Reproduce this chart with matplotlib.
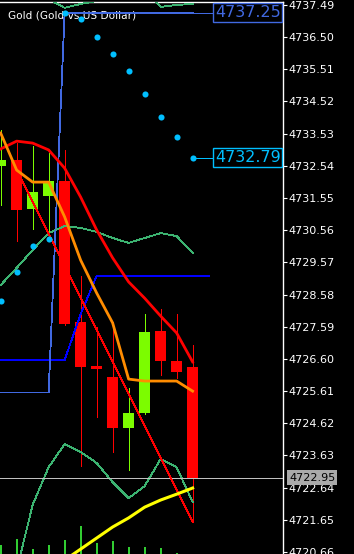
import numpy as np
import matplotlib
matplotlib.use("Agg")
import matplotlib.pyplot as plt
import matplotlib.transforms as mtrans

# ---------------- data ----------------
opens  = [4732.54, 4732.72, 4731.21, 4731.61, 4732.07, 4727.74, 4726.38, 4726.04, 4724.47, 4724.94, 4727.46, 4726.54, 4726.35]
highs  = [4733.64, 4733.24, 4733.15, 4732.94, 4733.03, 4729.15, 4727.58, 4727.74, 4725.71, 4727.98, 4728.14, 4727.98, 4727.03]
lows   = [4731.34, 4730.23, 4730.60, 4730.26, 4727.64, 4723.31, 4724.81, 4723.74, 4723.18, 4724.91, 4726.11, 4726.01, 4721.58]
closes = [4732.72, 4731.18, 4731.74, 4732.07, 4727.67, 4726.35, 4726.29, 4724.47, 4724.94, 4727.43, 4726.54, 4726.20, 4722.95]

ma_red    = [4733.06, 4733.30, 4733.24, 4733.03, 4732.47, 4731.58, 4730.57, 4729.71, 4728.97, 4728.47, 4727.92, 4727.40, 4726.51]
ma_orange = [4733.55, 4732.41, 4732.04, 4732.04, 4730.97, 4729.64, 4728.63, 4727.71, 4725.98, 4725.92, 4725.92, 4725.92, 4725.61]
ma_yellow = [4718.87, 4719.31, 4719.67, 4720.04, 4720.41, 4720.75, 4721.09, 4721.43, 4721.71, 4722.04, 4722.26, 4722.44, 4722.63]

bb_mid   = [4728.87, 4729.40, 4729.95, 4730.47, 4730.69, 4730.63, 4730.51, 4730.32, 4730.17, 4730.32, 4730.47, 4730.38, 4729.86]
bb_upper = [4739.18, 4738.69, 4737.80, 4737.67, 4737.40, 4737.52, 4737.61, 4737.83, 4738.01, 4737.95, 4737.43, 4737.49, 4737.52]
bb_lower = [4718.57, 4720.10, 4722.11, 4723.27, 4723.98, 4723.74, 4723.40, 4722.81, 4722.32, 4722.69, 4723.52, 4723.27, 4722.20]

sar = [4728.38, 4729.27, 4730.07, 4730.29, 4737.24, 4737.06, 4736.51, 4735.98, 4735.46, 4734.75, 4734.04, 4733.43, 4732.79]

level_light = [4725.57, 4725.57, 4725.57, 4725.57, 4737.25, 4737.25, 4737.25, 4737.25, 4737.25, 4737.25, 4737.25, 4737.25, 4737.25]
level_dark  = [4726.57, 4726.57, 4726.57, 4726.57, 4726.57, 4727.98, 4729.15, 4729.15, 4729.15, 4729.15, 4729.15, 4729.15, 4729.15, 4729.15]

trend_x = [1, 12]
trend_y = [4732.41, 4721.58]

volumes = [45, 75, 25, 45, 70, 140, 55, 65, 35, 35, 30, 5, 2]

price_ticks = [4737.49, 4736.50, 4735.51, 4734.52, 4733.53, 4732.54, 4731.55, 4730.56, 4729.57,
               4728.58, 4727.59, 4726.60, 4725.61, 4724.62, 4723.63, 4722.64, 4721.65, 4720.66]
current_price = 4722.95
title = "Gold (Gold vs US Dollar)"

# ---------------- figure ----------------
W, H, DPI = 354, 554, 100
fig = plt.figure(figsize=(W / DPI, H / DPI), dpi=DPI, facecolor="black")
rect = [0, 0, 283 / W, (H - 2) / H]

ax_vol = fig.add_axes(rect)
ax_vol.set_facecolor("black")
ax_vol.axis("off")

ax = fig.add_axes(rect, sharex=ax_vol)
ax.patch.set_visible(False)

n = len(opens)
x = np.arange(n)
XMIN, XMAX = -0.04, 17.65
YMIN, YMAX = 4720.60, 4737.58

bull, bear = "#7CFC00", "#FF0000"
cols = [bull if c >= o else bear for o, c in zip(opens, closes)]

# volumes
ax_vol.bar(x, volumes, width=0.13, color="#32CD32", zorder=1, antialiased=False)
ax_vol.set_ylim(0, 2760)

# candles
ax.vlines(x, lows, highs, colors=cols, linewidth=0.6, zorder=2, antialiased=False)
bottoms = [min(o, c) for o, c in zip(opens, closes)]
heights = [max(abs(c - o), 0.09) for o, c in zip(opens, closes)]
ax.bar(x, heights, bottom=bottoms, width=0.69, color=cols, linewidth=0, zorder=2, antialiased=False)

# indicators
thin = dict(lw=0.6, antialiased=False)
ax.plot(x, bb_mid, color="#3CB371", zorder=3, **thin)
ax.plot(x, bb_upper, color="#3CB371", zorder=3, **thin)
ax.plot(x, bb_lower, color="#3CB371", zorder=3, **thin)
ax.plot(np.arange(len(level_dark)), level_dark, color="#0000FF", zorder=3, **thin)
ax.plot(x, level_light, color="#4169E1", zorder=3, **thin)
ax.axhline(level_light[-1], xmin=(n - 1 - XMIN) / (XMAX - XMIN), xmax=0.75, color="#4169E1", zorder=3, **thin)
ax.plot(trend_x, trend_y, color="#FF0000", zorder=4, **thin)
ax.plot(x, ma_red, color="#FF0000", lw=2.0, zorder=4)
ax.plot(x, ma_orange, color="#FF8C00", lw=2.0, zorder=4)
ax.plot(x, ma_yellow, color="#FFFF00", lw=2.2, zorder=4)
ax.axhline(current_price, color="#C0C0C0", zorder=3, **thin)
ax.plot(x, sar, linestyle="none", marker="o", markersize=4.4, color="#00BFFF",
        markeredgewidth=0, zorder=5)
ax.axhline(sar[-1], xmin=(n - 1 - XMIN) / (XMAX - XMIN), xmax=0.75, color="#00BFFF", zorder=4, **thin)

ax.set_xlim(XMIN, XMAX)
ax.set_ylim(YMIN, YMAX)

# axes styling
for s in ["left", "bottom"]:
    ax.spines[s].set_visible(False)
for s in ["right", "top"]:
    ax.spines[s].set_color("white")
    ax.spines[s].set_linewidth(1.0)
ax.set_xticks([])
ax.yaxis.tick_right()
ax.set_yticks(price_ticks)
ax.set_yticklabels([f"{p:.2f}" for p in price_ticks])
ax.tick_params(axis="y", colors="white", length=3, width=0.8, pad=1, labelsize=8)

# title
ax.text(8 / 283, 1 - 13 / 552, title, transform=ax.transAxes, color="white",
        fontsize=7.6, ha="left", va="center", zorder=1)

# price labels
blend = mtrans.blended_transform_factory(ax.transAxes, ax.transData)
ax.annotate(f"{level_light[-1]:.2f}", xy=(1, level_light[-1]), xycoords=blend,
            xytext=(-2.5, 0), textcoords="offset pixels", ha="right", va="center",
            fontsize=11.5, color="#4169E1", zorder=10,
            bbox=dict(boxstyle="square,pad=0.12", facecolor="black", edgecolor="#4169E1", linewidth=1.0))
ax.annotate(f"{sar[-1]:.2f}", xy=(1, sar[-1]), xycoords=blend,
            xytext=(-2.5, 0), textcoords="offset pixels", ha="right", va="center",
            fontsize=11.5, color="#00BFFF", zorder=10,
            bbox=dict(boxstyle="square,pad=0.12", facecolor="black", edgecolor="#00BFFF", linewidth=1.0))
ax.annotate(f"{current_price:.2f}", xy=(1, current_price), xycoords=blend,
            xytext=(6, 0), textcoords="offset pixels", ha="left", va="center",
            fontsize=8, color="black", zorder=10, annotation_clip=False,
            bbox=dict(boxstyle="square,pad=0.2", facecolor="#AAAAAA", edgecolor="none"))

fig.savefig("out.png", dpi=DPI, facecolor="black")
